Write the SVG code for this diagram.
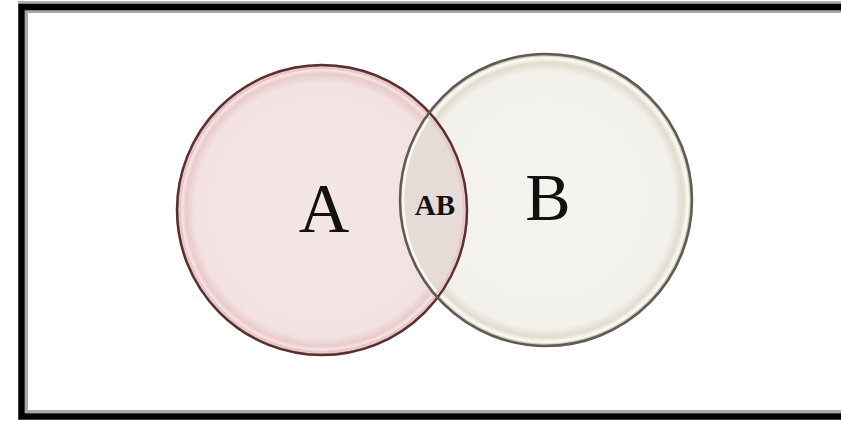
<svg xmlns="http://www.w3.org/2000/svg" width="841" height="421" viewBox="0 0 841 421">
<style>
.lbl{font-family:"Liberation Serif","Times New Roman",serif;fill:#111;text-anchor:middle}
</style>
<defs>
<radialGradient id="gA" cx="0.5" cy="0.5" r="0.5">
<stop offset="0" stop-color="#f4e6e7"/>
<stop offset="0.88" stop-color="#f2e2e3"/>
<stop offset="0.94" stop-color="#eacbcb"/>
<stop offset="0.975" stop-color="#fbeeee"/>
<stop offset="1" stop-color="#b88484"/>
</radialGradient>
<radialGradient id="gB" cx="0.5" cy="0.5" r="0.5">
<stop offset="0" stop-color="#f4f3ef"/>
<stop offset="0.88" stop-color="#f2f1ec"/>
<stop offset="0.94" stop-color="#e2dccf"/>
<stop offset="0.975" stop-color="#fdfcf6"/>
<stop offset="1" stop-color="#9c9486"/>
</radialGradient>
<clipPath id="clipA"><circle cx="322" cy="210" r="145"/></clipPath>
</defs>
<rect x="0" y="0" width="841" height="421" fill="#fff"/>
<line x1="18" y1="2.5" x2="841" y2="2.5" stroke="#b0b0b0" stroke-width="3"/>
<rect x="26.5" y="11.5" width="900" height="400" fill="none" stroke="#a8a8a8" stroke-width="3"/>
<rect x="21.5" y="7" width="900" height="409.5" fill="none" stroke="#000" stroke-width="6.5"/>
<g id="circleA">
<circle cx="322" cy="210" r="145" fill="url(#gA)"/>
</g>
<g id="circleB">
<circle cx="546" cy="200" r="146" fill="url(#gB)"/>
</g>
<g id="lensAB">
<circle cx="546" cy="200" r="146" fill="#e7dbd8" clip-path="url(#clipA)"/>
<circle cx="546" cy="200" r="143" fill="none" stroke="#fbf7f2" stroke-width="2.5" clip-path="url(#clipA)"/>
<circle cx="322" cy="210" r="142" fill="none" stroke="#e9c8c8" stroke-width="2.5"/>
</g>
<g id="outlines">
<circle cx="322" cy="210" r="145" fill="none" stroke="#5a2f2f" stroke-width="2.5"/>
<circle cx="546" cy="200" r="146" fill="none" stroke="#5f5a52" stroke-width="2.5"/>
</g>
<g id="labels">
<text class="lbl" x="324" y="232" font-size="70">A</text>
<text class="lbl" x="548" y="220" font-size="68">B</text>
<text class="lbl" x="435" y="215" font-size="29" font-weight="bold">AB</text>
</g>
</svg>
